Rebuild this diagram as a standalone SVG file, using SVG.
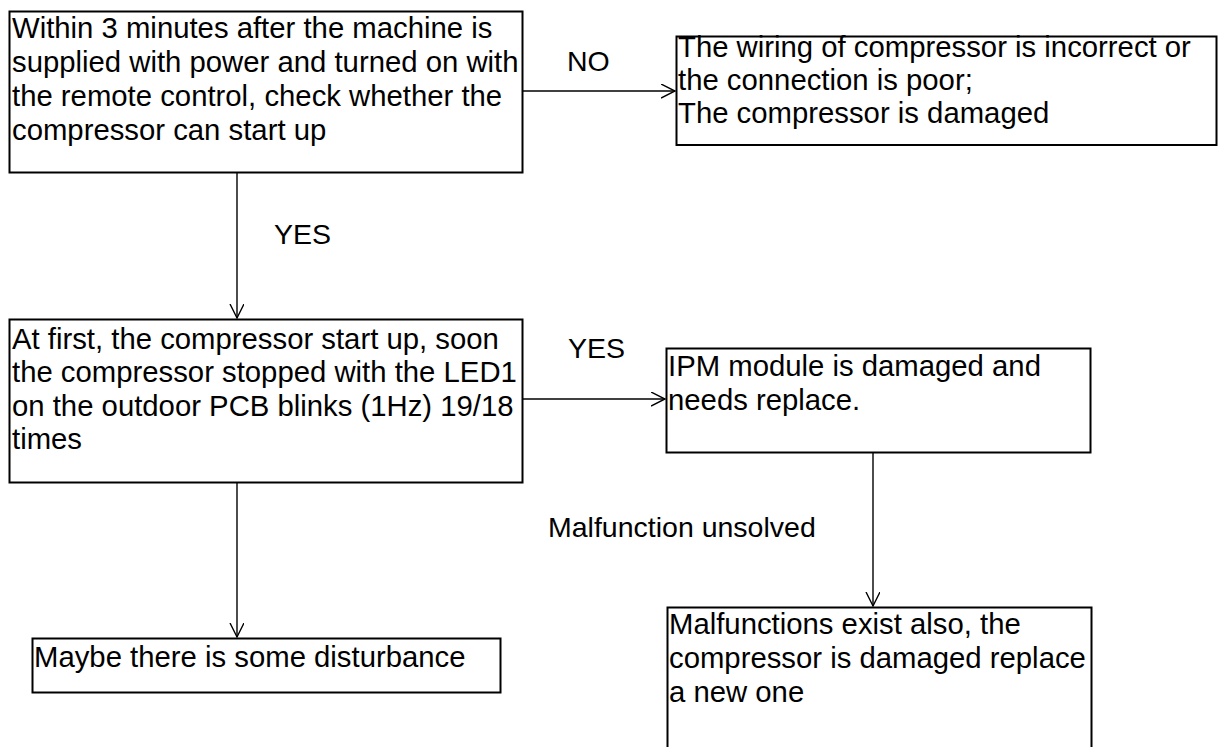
<svg xmlns="http://www.w3.org/2000/svg" width="1224" height="747" viewBox="0 0 1224 747">
<defs>
<style>
.box{fill:#fff;stroke:#000;stroke-width:2}
.t{font-family:"Liberation Sans",Arial,sans-serif;font-size:29.3px;fill:#000}
.lbl{font-family:"Liberation Sans",Arial,sans-serif;font-size:28.5px;fill:#000}
.conn{stroke:#000;stroke-width:1.4;fill:none}
</style>
<marker id="arr" markerUnits="userSpaceOnUse" markerWidth="16" markerHeight="16" refX="14" refY="7" orient="auto">
<path d="M0,0 L14,7 L0,14" fill="none" stroke="#000" stroke-width="1.4"/>
</marker>
</defs>
<rect width="1224" height="747" fill="#fff"/>
<g id="connectors">
<line class="conn" x1="523" y1="91" x2="675" y2="91" marker-end="url(#arr)"/>
<line class="conn" x1="237" y1="172" x2="237" y2="318" marker-end="url(#arr)"/>
<line class="conn" x1="523" y1="399" x2="665" y2="399" marker-end="url(#arr)"/>
<line class="conn" x1="873" y1="452" x2="873" y2="606" marker-end="url(#arr)"/>
<line class="conn" x1="237" y1="482" x2="237" y2="637" marker-end="url(#arr)"/>
<text class="lbl" x="567" y="71">NO</text>
<text class="lbl" x="274" y="244">YES</text>
<text class="lbl" x="568" y="358">YES</text>
<text class="lbl" x="548" y="537">Malfunction unsolved</text>
</g>
<g id="node-start">
<rect class="box" x="9.5" y="11.5" width="513" height="161"/>
<text class="t" x="12" y="38">Within 3 minutes after the machine is</text>
<text class="t" x="12" y="72">supplied with power and turned on with</text>
<text class="t" x="12" y="106">the remote control, check whether the</text>
<text class="t" x="12" y="140">compressor can start up</text>
</g>
<g id="node-wiring">
<rect class="box" x="676.5" y="36.5" width="540" height="108.5"/>
<text class="t" x="678" y="57">The wiring of compressor is incorrect or</text>
<text class="t" x="678" y="90">the connection is poor;</text>
<text class="t" x="678" y="123">The compressor is damaged</text>
</g>
<g id="node-led">
<rect class="box" x="9.5" y="319.5" width="513" height="163"/>
<text class="t" x="12" y="349">At first, the compressor start up, soon</text>
<text class="t" x="12" y="382">the compressor stopped with the LED1</text>
<text class="t" x="12" y="415.5">on the outdoor PCB blinks (1Hz) 19/18</text>
<text class="t" x="12" y="449">times</text>
</g>
<g id="node-ipm">
<rect class="box" x="666.5" y="348.5" width="424" height="104"/>
<text class="t" x="668" y="376">IPM module is damaged and</text>
<text class="t" x="668" y="410">needs replace.</text>
</g>
<g id="node-compressor">
<rect class="box" x="667.5" y="607.5" width="424" height="170"/>
<text class="t" x="669" y="634">Malfunctions exist also, the</text>
<text class="t" x="669" y="668">compressor is damaged replace</text>
<text class="t" x="669" y="702">a new one</text>
</g>
<g id="node-disturbance">
<rect class="box" x="32.5" y="638.5" width="468" height="54"/>
<text class="t" x="34" y="667">Maybe there is some disturbance</text>
</g>
</svg>
